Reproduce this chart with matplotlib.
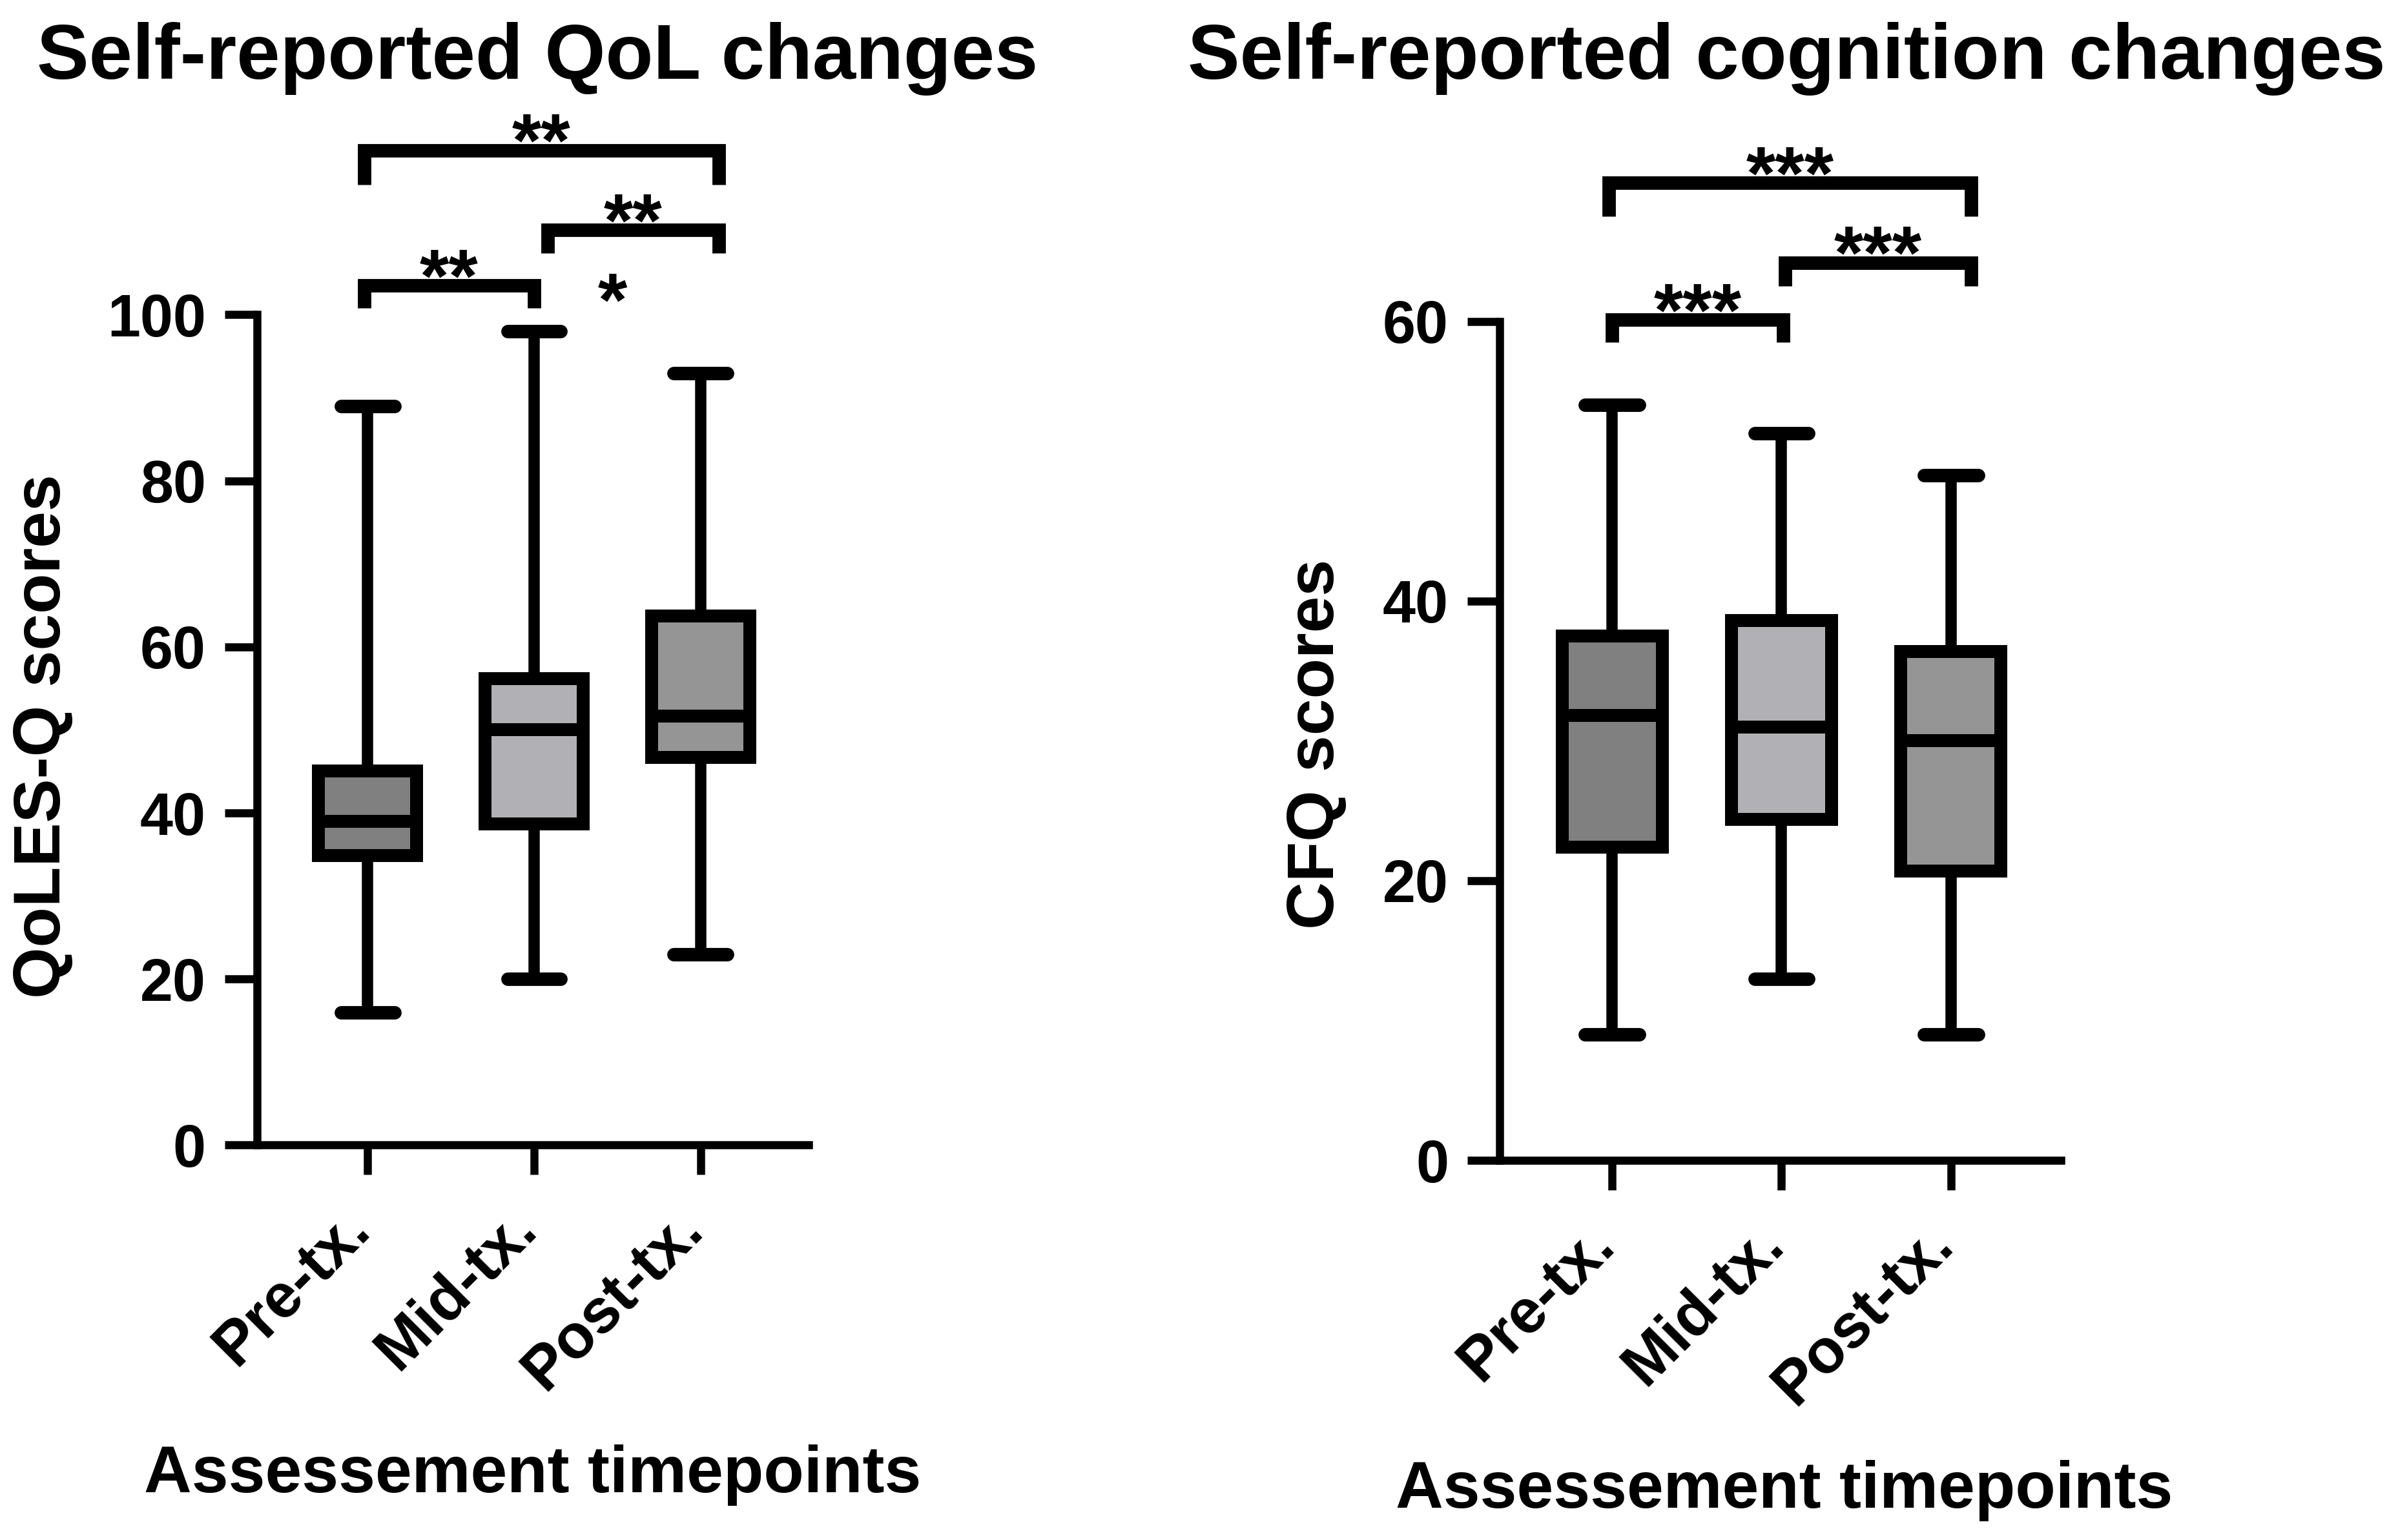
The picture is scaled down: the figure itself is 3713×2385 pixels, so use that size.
import matplotlib
matplotlib.use("Agg")
import matplotlib.pyplot as plt
from matplotlib.transforms import ScaledTranslation

plt.rcParams['font.family'] = ['Liberation Sans', 'DejaVu Sans']

# ---- data ----
timepoints = ["Pre-tx.", "Mid-tx.", "Post-tx."]

# QoLES-Q scores (box and whiskers, min-max)
qol_min = [16, 20, 23]
qol_q1 = [34.9, 38.7, 46.7]
qol_med = [39.0, 50.0, 51.7]
qol_q3 = [45.1, 56.2, 63.7]
qol_max = [89, 98, 93]

# CFQ scores
cfq_min = [9, 13, 9]
cfq_q1 = [22.4, 24.4, 20.7]
cfq_med = [31.8, 31.0, 30.0]
cfq_q3 = [37.5, 38.6, 36.4]
cfq_max = [54, 52, 49]

# significance brackets: (from, to, level, label)
qol_sig = [(0, 1, 103.5, "**"), (1, 2, 110.2, "**"), (0, 2, 119.8, "**")]
cfq_sig = [(0, 1, 60.1, "***"), (1, 2, 64.2, "***"), (0, 2, 69.9, "***")]
qol_extra = (1.47, 102.6, "*")

box_colors = ["#808080", "#b1b1b5", "#959595"]


def make_stats(lo, q1, med, q3, hi):
    return [dict(whislo=lo[i], q1=q1[i], med=med[i], q3=q3[i], whishi=hi[i], fliers=[])
            for i in range(len(med))]


def draw_box(ax, stats):
    bp = ax.bxp(stats, positions=[0, 1, 2], widths=0.59, patch_artist=True,
                showfliers=False, capwidths=0.32,
                boxprops=dict(linewidth=4.8, edgecolor='black'),
                whiskerprops=dict(linewidth=4.2, color='black'),
                capprops=dict(linewidth=5, color='black', solid_capstyle='round'),
                medianprops=dict(linewidth=4.8, color='black'))
    for patch, c in zip(bp['boxes'], box_colors):
        patch.set_facecolor(c)
        patch.set_joinstyle('miter')


def bracket(ax, x1, x2, y, leg, text, dx1=0.0, dx2=0.0):
    xs = [x1 + dx1, x1 + dx1, x2 + dx2, x2 + dx2]
    ys = [y - leg, y, y, y - leg]
    ax.plot(xs, ys, color='black', linewidth=5, clip_on=False,
            solid_joinstyle='miter', solid_capstyle='butt')
    ax.annotate(text, xy=((x1 + x2) / 2 + (dx1 + dx2) / 2, y), xytext=(0, -6),
                textcoords='offset points', ha='center', va='baseline',
                fontsize=28, fontweight='bold', annotation_clip=False)


def style_axes(ax, ymax, yticks):
    ax.set_xlim(-0.665, 2.65)
    ax.set_ylim(0, ymax)
    for s in ['top', 'right']:
        ax.spines[s].set_visible(False)
    for s in ['left', 'bottom']:
        ax.spines[s].set_linewidth(3)
    ax.set_yticks(yticks)
    ax.set_xticks([0, 1, 2])
    ax.tick_params(axis='y', length=12, width=3, pad=7)
    ax.tick_params(axis='x', length=11, width=3, pad=9)
    ax.set_xticklabels(timepoints, rotation=45, ha='right', va='top',
                       fontsize=23, fontweight='bold')
    # nudge the slanted labels so they end just under their tick
    shift = ScaledTranslation(0.07, 0, fig.dpi_scale_trans)
    for lab in ax.get_xticklabels():
        lab.set_transform(lab.get_transform() + shift)
    for lab in ax.get_yticklabels():
        lab.set_fontweight('bold')
        lab.set_fontsize(22)


fig = plt.figure(figsize=(3713 / 300, 2385 / 300), dpi=300)
ax1 = fig.add_axes([0.1072, 0.2564, 0.230, 0.5392])
ax2 = fig.add_axes([0.6254, 0.2465, 0.234, 0.5449])

draw_box(ax1, make_stats(qol_min, qol_q1, qol_med, qol_q3, qol_max))
draw_box(ax2, make_stats(cfq_min, cfq_q1, cfq_med, cfq_q3, cfq_max))
style_axes(ax1, 100, [0, 20, 40, 60, 80, 100])
style_axes(ax2, 60, [0, 20, 40, 60])

# brackets
legs1 = [2.7, 2.8, 4.1]
off1 = [(-0.02, 0.0), (0.08, 0.11), (-0.02, 0.11)]
for (a, b, y, t), lg, (d1, d2) in zip(qol_sig, legs1, off1):
    bracket(ax1, a, b, y, lg, t, d1, d2)
ax1.annotate(qol_extra[2], xy=(qol_extra[0], qol_extra[1]), xytext=(0, -12),
             textcoords='offset points', ha='center', va='baseline',
             fontsize=28, fontweight='bold', annotation_clip=False)

legs2 = [1.6, 1.7, 2.4]
off2 = [(0.0, 0.01), (0.02, 0.12), (-0.02, 0.12)]
for (a, b, y, t), lg, (d1, d2) in zip(cfq_sig, legs2, off2):
    bracket(ax2, a, b, y, lg, t, d1, d2)

# titles and axis labels
fig.text(0.224, 0.962, "Self-reported QoL changes", ha='center', va='center',
         fontsize=29, fontweight='bold')
fig.text(0.745, 0.962, "Self-reported cognition changes", ha='center', va='center',
         fontsize=29, fontweight='bold')
fig.text(0.018, 0.522, "QoLES-Q scores", rotation=90, ha='center', va='center',
         fontsize=24.5, fontweight='bold')
fig.text(0.549, 0.517, "CFQ scores", rotation=90, ha='center', va='center',
         fontsize=24.5, fontweight='bold')
fig.text(0.222, 0.042, "Assessement timepoints", ha='center', va='center',
         fontsize=24.5, fontweight='bold')
fig.text(0.744, 0.032, "Assessement timepoints", ha='center', va='center',
         fontsize=24.5, fontweight='bold')

fig.savefig("out.png", dpi=300)
